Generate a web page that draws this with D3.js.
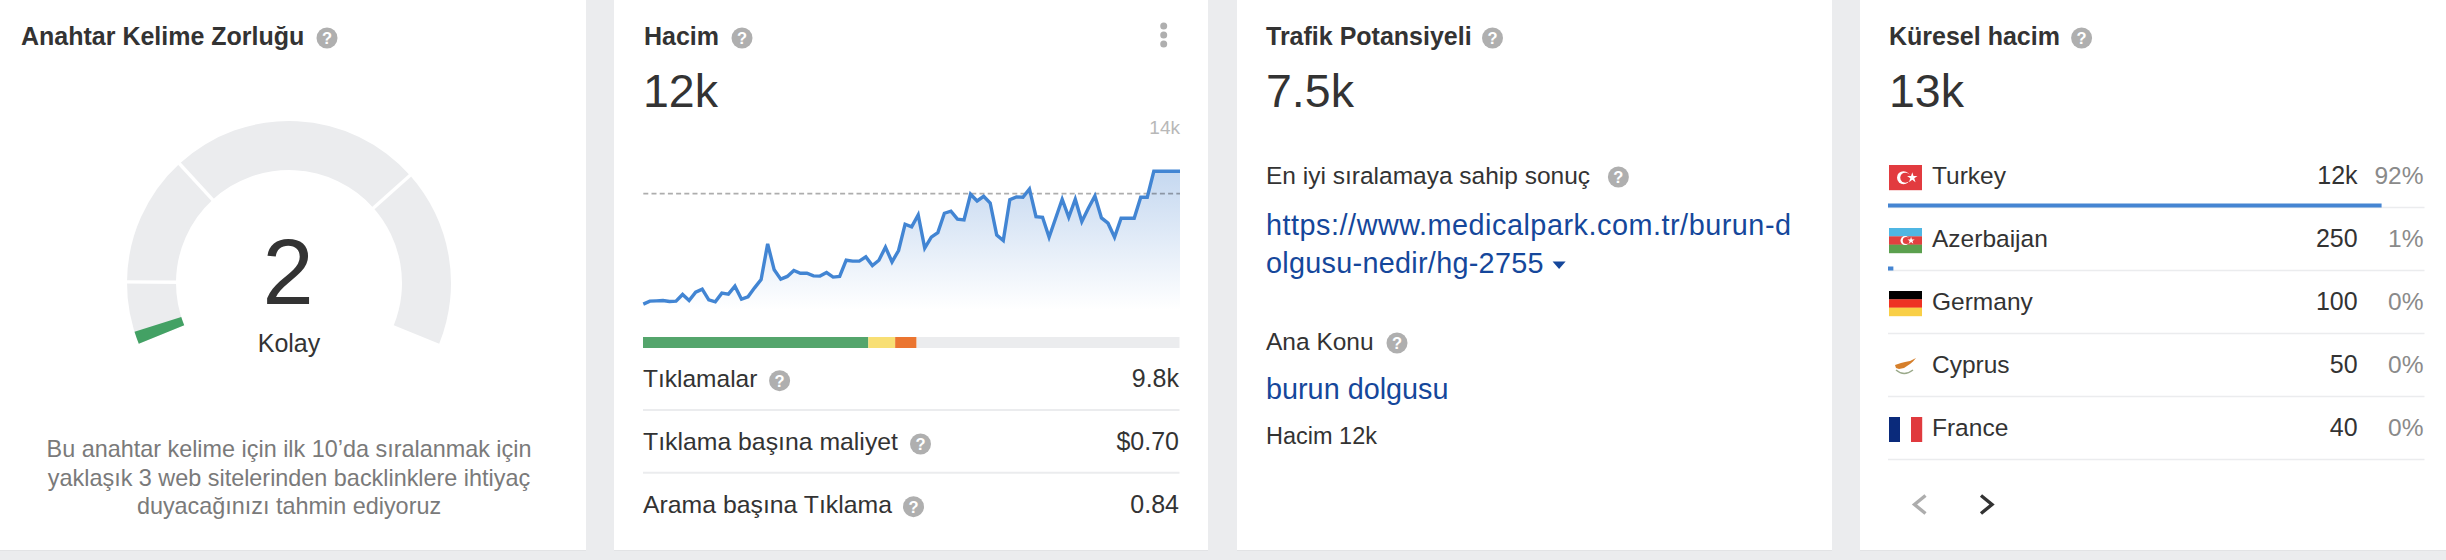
<!DOCTYPE html>
<html><head><meta charset="utf-8">
<script src="https://cdn.jsdelivr.net/npm/d3@7"></script>
<style>
html,body{margin:0;padding:0;background:#ebecee;overflow:hidden}
svg{display:block}
text{font-family:"Liberation Sans",Arial,sans-serif;fill:#333}
</style></head><body>
<div id="chart"></div>
<script>
// ---------- data ----------
const gaugeValue = 2;
const gaugeLabel = "Kolay";
const gaugeBreaks = [0, 10, 31, 71.6, 100];
const descriptionLines = ["Bu anahtar kelime için ilk 10’da sıralanmak için",
  "yaklaşık 3 web sitelerinden backlinklere ihtiyaç", "duyacağınızı tahmin ediyoruz"];
const volumeSeries = [2130,2390,2420,2450,2360,2390,2990,2450,3200,3470,2510,2330,3110,3020,3730,2570,2780,3580,4330,7510,
  5190,4360,4600,5130,4890,4890,4650,4630,4950,4540,4600,6050,5970,5970,6350,5580,6050,7220,5900,6920,
  9270,9030,10100,7130,8110,8520,10250,10430,9720,9660,11950,11350,11770,11170,8290,7810,11470,11710,11680,12420,
  9950,9890,8110,9800,11500,9890,11500,9510,10700,11800,9830,9360,8110,9800,9800,9800,11680,11680,14000,14000,14000,14000,14000];
const volumeAverage = 12000;
const volumeTopLabel = "14k";
const clickSplitNames = ["organik","reklam","tıklamasız diğer","tıklamasız"];
const clickSplitShares = [42, 5, 4, 49];
const metricNames = ["Tıklamalar","Tıklama başına maliyet","Arama başına Tıklama"];
const metricValues = ["9.8k","$0.70","0.84"];
const countries = ["Turkey","Azerbaijan","Germany","Cyprus","France"];
const countryVolumes = ["12k","250","100","50","40"];
const countryShares = [92,1,0,0,0];

// ---------- page ----------
const W = 2446, H = 560;
const svg = d3.select("#chart").append("svg").attr("width",W).attr("height",H).attr("viewBox",`0 0 ${W} ${H}`);
const GREY = "#ebecee", HELP = "#afafaf";

[[0,586],[614,1208],[1237,1832],[1860,2446]].forEach(([a,b])=>{
  svg.append("rect").attr("x",a).attr("y",0).attr("width",b-a).attr("height",551).attr("fill","#e2e3e5");
  svg.append("rect").attr("x",a).attr("y",0).attr("width",b-a).attr("height",550).attr("fill","#fff");
});

function txt(x,y,s,size,opt={}){
  const t = svg.append("text").attr("x",x).attr("y",y).text(s)
    .style("font-size",size+"px")
    .style("font-weight",opt.bold?"bold":"normal")
    .style("fill",opt.fill||"#333")
    .attr("text-anchor",opt.anchor||"start");
  if(opt.fit) t.attr("textLength",opt.fit).attr("lengthAdjust","spacing");
  return t;
}
function help(x,y){
  svg.append("circle").attr("cx",x).attr("cy",y).attr("r",10.5).attr("fill",HELP);
  txt(x,y+5.8,"?",16.5,{bold:true,fill:"#fff",anchor:"middle"});
}
const TITLE=25, BIG=46.5, BODY=24.5, VAL=25, LINK=28.8;

// ---------- panel 1 : gauge ----------
txt(21,45,"Anahtar Kelime Zorluğu",TITLE,{bold:true}); help(327,38);
const gx=289, gy=283;
const ang = d3.scaleLinear().domain([0,100]).range([-112*Math.PI/180,112*Math.PI/180]);
const arc = d3.arc().innerRadius(113).outerRadius(162);
const g = svg.append("g").attr("transform",`translate(${gx},${gy})`);
const pairs = d3.pairs(gaugeBreaks);
g.selectAll("path.seg").data(pairs).join("path").attr("class","seg")
  .attr("d",d=>arc({startAngle:ang(d[0]),endAngle:ang(d[1])})).attr("fill",GREY);
g.selectAll("line.sep").data(gaugeBreaks.slice(1,-1)).join("line").attr("class","sep")
  .attr("x1",d=>108*Math.sin(ang(d))).attr("y1",d=>-108*Math.cos(ang(d)))
  .attr("x2",d=>167*Math.sin(ang(d))).attr("y2",d=>-167*Math.cos(ang(d)))
  .attr("stroke","#fff").attr("stroke-width",3.4);
g.append("path").attr("d",arc({startAngle:ang(0),endAngle:ang(gaugeValue)})).attr("fill","#43a164");
txt(288,304,String(gaugeValue),92,{anchor:"middle"});
txt(289,352,gaugeLabel,25,{anchor:"middle"});
descriptionLines.forEach((l,i)=>txt(289,457+i*28.6,l,23.4,{anchor:"middle",fill:"#7a7a7a"}));

// ---------- panel 2 : volume ----------
txt(644,45,"Hacim",TITLE,{bold:true}); help(742,38);
[26,35,44].forEach(y=>svg.append("circle").attr("cx",1163.7).attr("cy",y).attr("r",3.5).attr("fill",HELP));
txt(643,107,"12k",BIG);
txt(1180,134,volumeTopLabel,19,{anchor:"end",fill:"#b8b8b8"});
const x = d3.scaleLinear().domain([0,volumeSeries.length-1]).range([643.3,1180]);
const y = d3.scaleLinear().domain([1600,14000]).range([310,171.3]);
const defs = svg.append("defs");
const grad = defs.append("linearGradient").attr("id","fade").attr("gradientUnits","userSpaceOnUse")
  .attr("x1",0).attr("x2",0).attr("y1",y(14000)).attr("y2",y(1600));
grad.append("stop").attr("offset","0%").attr("stop-color","#c5d8f0");
grad.append("stop").attr("offset","100%").attr("stop-color","#ffffff");
svg.append("path").datum(volumeSeries)
  .attr("d",d3.area().x((d,i)=>x(i)).y0(y(1600)).y1(d=>y(d))).attr("fill","url(#fade)");
svg.append("line").attr("x1",643.3).attr("x2",1180).attr("y1",y(volumeAverage)).attr("y2",y(volumeAverage))
  .attr("stroke","#000").attr("stroke-opacity",.32).attr("stroke-width",1.6).attr("stroke-dasharray","5 3.2");
svg.append("path").datum(volumeSeries)
  .attr("d",d3.line().x((d,i)=>x(i)).y(d=>y(d))).attr("fill","none")
  .attr("stroke","#4285d3").attr("stroke-width",3.4).attr("stroke-linejoin","miter");
const sx = d3.scaleLinear().domain([0,100]).range([643,1179.5]);
const stack = d3.cumsum(clickSplitShares);
const splitColors = ["#54a56c","#f8df74","#eb7530",GREY];
svg.selectAll("rect.split").data(clickSplitNames).join("rect").attr("class","split")
  .attr("x",(d,i)=>sx(i?stack[i-1]:0)).attr("width",(d,i)=>sx(stack[i])-sx(i?stack[i-1]:0))
  .attr("y",337).attr("height",11).attr("fill",(d,i)=>splitColors[i]);
const rowBase=[386.7,450,512.7], rowIcon=[779.6,920.5,913.5];
const rowFit=[115,0,0];
metricNames.forEach((n,i)=>{
  txt(643,rowBase[i],n,i?24.8:BODY);
  txt(1179,rowBase[i],metricValues[i],VAL,{anchor:"end"});
  help(rowIcon[i],rowBase[i]-6);
});
[410,472.7].forEach(v=>svg.append("line").attr("x1",643).attr("x2",1179.5).attr("y1",v).attr("y2",v).attr("stroke",GREY).attr("stroke-width",2));

// ---------- panel 3 : traffic ----------
txt(1266,45,"Trafik Potansiyeli",TITLE,{bold:true}); help(1492.5,38);
txt(1266,107,"7.5k",BIG);
txt(1266,184,"En iyi sıralamaya sahip sonuç",BODY); help(1618.4,177);
const LC="#15479b";
txt(1266,234.5,"https://www.medicalpark.com.tr/burun-d",LINK,{fill:LC,fit:525});
txt(1266,272.5,"olgusu-nedir/hg-2755",LINK,{fill:LC,fit:277.5});
svg.append("path").attr("d","M1552.6,261.5 L1565.6,261.5 L1559.1,269 Z").attr("fill",LC);
txt(1266,350,"Ana Konu",BODY); help(1397,343);
txt(1266,398.5,"burun dolgusu",LINK,{fill:LC});
txt(1266,444,"Hacim 12k",23.5);

// ---------- panel 4 : global ----------
txt(1889,45,"Küresel hacim",TITLE,{bold:true}); help(2081.6,38);
txt(1889,107,"13k",BIG);
const band = d3.scaleBand().domain(countries).range([144.5,459.5+0]).paddingInner(0).paddingOuter(0);
const rowBottom = c => band(c)+band.bandwidth();
const sh = d3.scaleLinear().domain([0,100]).range([1888,2424.5]);
countries.forEach((c,i)=>{
  const b=rowBottom(c), base=b-23.5;
  txt(1932,base,c,BODY);
  txt(2357.6,base,countryVolumes[i],VAL,{anchor:"end"});
  txt(2423.5,base,countryShares[i]+"%",BODY,{anchor:"end",fill:"#8a8a8a"});
  svg.append("line").attr("x1",1888).attr("x2",2424.5).attr("y1",b).attr("y2",b).attr("stroke",GREY).attr("stroke-width",1.5);
  if(countryShares[i]>0) svg.append("rect").attr("x",sh(0)).attr("width",sh(countryShares[i])-sh(0))
    .attr("y",b-4).attr("height",4).attr("fill","#4585d2");
  drawFlag(c,1889,b-42.5);
});
function drawFlag(c,fx,fy){
  const f=svg.append("g").attr("transform",`translate(${fx},${fy})`), w=33,h=25;
  const bars=(cols,vert)=>cols.forEach((col,k)=>{
    f.append("rect").attr("x",vert?k*w/cols.length:0).attr("y",vert?0:k*h/cols.length)
     .attr("width",vert?w/cols.length+.2:w).attr("height",vert?h:h/cols.length+.2).attr("fill",col);});
  const crescent=(cx,cy,r,bg)=>{
    f.append("circle").attr("cx",cx).attr("cy",cy).attr("r",r).attr("fill","#fff");
    f.append("circle").attr("cx",cx+r*.28).attr("cy",cy).attr("r",r*.78).attr("fill",bg);
    f.append("path").attr("d",d3.symbol(d3.symbolStar,r*r*.8)()).attr("transform",`translate(${cx+r*1.35},${cy})`).attr("fill","#fff");
  };
  if(c==="Turkey"){bars(["#e23b3f"]);crescent(14.5,12.7,6.5,"#e23b3f");}
  if(c==="Azerbaijan"){bars(["#4fb6e3","#e1403f","#5ba04e"]);crescent(16,12.6,4.5,"#e1403f");}
  if(c==="Germany"){bars(["#000","#ee3224","#f9cf46"]);}
  if(c==="France"){bars(["#0a2a7b","#fff","#e03a3e"],true);}
  if(c==="Cyprus"){
    f.append("path").attr("d","M6,11 L12,9 L16,8 L21,7 L27,4 L24,7.5 L21,10 L18,12 L15,14 L10,15 L7,14 Z").attr("fill","#d67f2b");
    f.append("path").attr("d","M7,16 Q15,23 24,16").attr("fill","none").attr("stroke","#9aa98a").attr("stroke-width",1.4);
  }
}
// pager
svg.append("path").attr("d","M1925.5,495.5 L1914.5,504.5 L1925.5,513.5").attr("fill","none").attr("stroke","#adadad").attr("stroke-width",3.4);
svg.append("path").attr("d","M1981,495.5 L1992,504.5 L1981,513.5").attr("fill","none").attr("stroke","#333").attr("stroke-width",3.4);
</script>
</body></html>
